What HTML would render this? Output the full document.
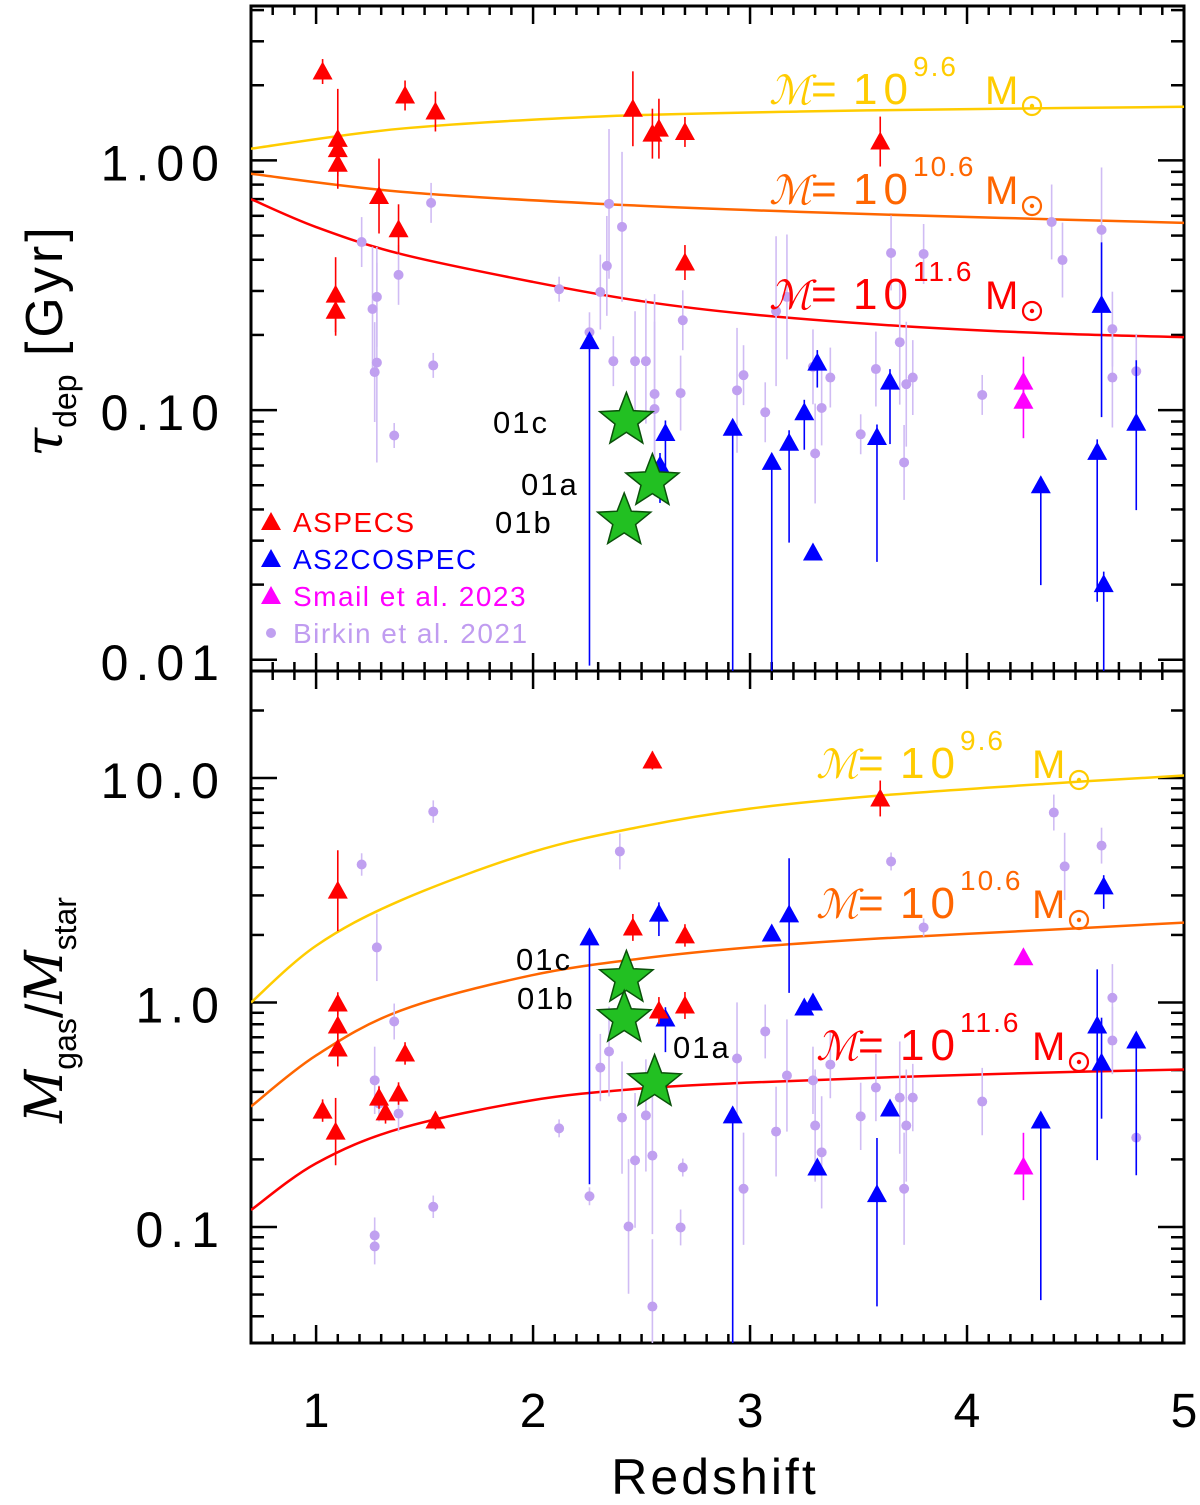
<!DOCTYPE html>
<html><head><meta charset="utf-8"><style>
html,body{margin:0;padding:0;background:#fff;}
svg{display:block;font-family:"Liberation Sans","DejaVu Sans",sans-serif;}
</style></head><body>
<svg id="chart" width="1200" height="1505" viewBox="0 0 1200 1505" xmlns="http://www.w3.org/2000/svg">
<defs>
<clipPath id="clipT"><rect x="251" y="6" width="933" height="665"/></clipPath>
<clipPath id="clipB"><rect x="251" y="671" width="933" height="672"/></clipPath>
</defs>
<g id="axes"></g>
<g id="marksT" clip-path="url(#clipT)"></g>
<g id="marksB" clip-path="url(#clipB)"></g>
<g id="labels"></g>
</svg>
<script>
// ---------- TOP PANEL DATA (tau_dep, Gyr) ----------
const topAspecsZ = [1.03,1.10,1.10,1.10,1.29,1.38,1.41,1.55,1.09,1.09,2.46,2.55,2.58,2.70,2.70,3.60];
const topAspecsV = [2.27,1.22,1.11,0.97,0.72,0.53,1.82,1.57,0.29,0.25,1.61,1.28,1.34,1.30,0.39,1.19];
const topAspecsLo = [0.05,0.2,0.05,0.05,0.15,0.1,0.06,0.08,0.15,0.1,0.15,0.1,0.12,0.06,0.07,0.1];
const topAspecsHi = [0.05,0.2,0.05,0.05,0.15,0.1,0.06,0.08,0.15,0.1,0.15,0.1,0.12,0.06,0.07,0.1];
const topBlueZ = [2.26,2.585,2.61,2.92,3.10,3.18,3.25,3.31,3.29,3.585,3.645,4.34,4.60,4.62,4.63,4.78];
const topBlueV = [0.189,0.060,0.081,0.085,0.062,0.074,0.098,0.155,0.0269,0.078,0.130,0.050,0.068,0.264,0.0201,0.089];
const topBlueLo = [1.3,0.15,0.2,1.0,1.0,0.4,0.15,0.1,0.03,0.5,0.25,0.4,0.6,0.45,0.5,0.35];
const topBlueHi = [0.03,0.05,0.05,0.03,0.03,0.05,0.05,0.05,0.03,0.05,0.05,0.03,0.05,0.25,0.05,0.25];
const topMagZ = [4.26,4.26];
const topMagV = [0.130,0.109];
const topMagLo = [0.1,0.15];
const topMagHi = [0.1,0.05];
const topBirkZ = [1.21,1.26,1.28,1.27,1.28,1.36,1.38,1.53,1.54,2.12,2.26,2.31,2.34,2.35,2.41,2.37,2.47,2.52,2.56,2.56,2.68,2.69,2.94,2.97,3.07,3.12,3.17,3.29,3.30,3.33,3.37,3.51,3.58,3.65,3.69,3.71,3.72,3.75,3.80,4.07,4.39,4.44,4.62,4.67,4.67,4.78];
const topBirkV = [0.471,0.254,0.284,0.142,0.155,0.0791,0.348,0.676,0.151,0.305,0.205,0.297,0.378,0.670,0.542,0.157,0.157,0.157,0.116,0.101,0.117,0.229,0.120,0.138,0.098,0.249,0.284,0.149,0.067,0.102,0.135,0.080,0.146,0.426,0.187,0.0617,0.127,0.135,0.422,0.115,0.567,0.399,0.527,0.211,0.135,0.143];
const topBirkE = [0.1,0.25,0.2,0.2,0.4,0.05,0.12,0.08,0.05,0.05,0.08,0.15,0.2,0.3,0.3,0.1,0.2,0.25,0.4,0.35,0.15,0.12,0.25,0.12,0.12,0.3,0.25,0.15,0.2,0.15,0.12,0.08,0.15,0.15,0.25,0.15,0.25,0.15,0.12,0.08,0.15,0.15,0.25,0.15,0.2,0.15];
const topStarZ = [2.43,2.55,2.42];
const topStarV = [0.091,0.0517,0.036];
const topStarLbl = ["01c","01a","01b"];
const curveYellowTZ = [0.7,1.39,2.31,3.23,4.15,5.0];
const curveYellowTV = [1.114,1.34,1.50,1.57,1.61,1.64];
const curveOrangeTZ = [0.7,1.39,2.31,3.23,4.15,5.0];
const curveOrangeTV = [0.884,0.749,0.670,0.622,0.589,0.562];
const curveRedTZ = [0.7,1.0,1.39,2.0,2.5,3.0,3.7,4.38,5.0];
const curveRedTV = [0.70,0.541,0.422,0.326,0.273,0.242,0.217,0.203,0.196];
// ---------- BOTTOM PANEL DATA (Mgas/Mstar) ----------
const botAspecsZ = [1.03,1.10,1.10,1.10,1.10,1.09,1.29,1.32,1.38,1.41,1.55,2.46,2.55,2.58,2.70,2.70,3.60];
const botAspecsV = [0.330,3.15,0.99,0.79,0.624,0.266,0.377,0.324,0.393,0.593,0.298,2.16,11.97,0.921,1.99,0.97,8.11];
const botAspecsLo = [0.05,0.18,0.05,0.1,0.08,0.15,0.05,0.05,0.05,0.05,0.04,0.06,0.04,0.06,0.05,0.06,0.08];
const botAspecsHi = [0.05,0.18,0.05,0.1,0.08,0.15,0.05,0.05,0.05,0.05,0.04,0.06,0.04,0.06,0.05,0.06,0.08];
const botBlueZ = [2.26,2.58,2.61,2.92,3.10,3.18,3.25,3.29,3.31,3.585,3.645,4.34,4.60,4.62,4.63,4.78];
const botBlueV = [1.95,2.49,0.849,0.314,2.03,2.47,0.950,1.0,0.184,0.140,0.337,0.298,0.790,0.540,3.29,0.677];
const botBlueLo = [1.1,0.1,0.15,1.2,0.03,0.35,0.03,0.03,0.03,0.5,0.03,0.8,0.6,0.25,0.1,0.6];
const botBlueHi = [0.03,0.05,0.05,0.03,0.03,0.25,0.03,0.03,0.03,0.25,0.03,0.03,0.25,0.2,0.05,0.03];
const botMagZ = [4.26,4.26];
const botMagV = [1.59,0.186];
const botMagLo = [0.03,0.15];
const botMagHi = [0.03,0.15];
const botBirkZ = [1.21,1.27,1.27,1.27,1.28,1.29,1.36,1.38,1.54,1.54,2.12,2.26,2.31,2.35,2.40,2.41,2.44,2.47,2.52,2.55,2.55,2.68,2.69,2.94,2.97,3.07,3.12,3.17,3.29,3.30,3.33,3.37,3.51,3.58,3.65,3.69,3.71,3.72,3.75,3.80,4.07,4.40,4.45,4.62,4.67,4.67,4.78];
const botBirkV = [4.12,0.0917,0.0819,0.450,1.76,0.355,0.823,0.320,7.09,0.123,0.275,0.137,0.513,0.605,4.71,0.307,0.1005,0.198,0.314,0.208,0.0442,0.0995,0.184,0.563,0.148,0.743,0.266,0.473,0.450,0.283,0.215,0.529,0.311,0.418,4.25,0.377,0.148,0.283,0.377,2.16,0.362,7.02,4.04,5.00,1.05,0.677,0.250];
const botBirkE = [0.05,0.08,0.08,0.15,0.15,0.08,0.08,0.08,0.05,0.05,0.04,0.04,0.15,0.2,0.08,0.25,0.3,0.3,0.25,0.35,0.3,0.08,0.04,0.25,0.25,0.12,0.2,0.25,0.15,0.25,0.25,0.15,0.15,0.15,0.04,0.25,0.25,0.25,0.15,0.04,0.15,0.08,0.15,0.08,0.15,0.15,0.15];
const botStarZ = [2.43,2.42,2.56];
const botStarV = [1.28,0.849,0.440];
const botStarLbl = ["01c","01b","01a"];
const curveYellowBZ = [0.7,1.0,1.39,1.99,2.50,3.0,3.60,4.38,5.0];
const curveYellowBV = [1.0,1.79,2.85,4.66,6.08,7.31,8.36,9.45,10.26];
const curveOrangeBZ = [0.7,1.0,1.39,1.99,2.50,3.0,3.60,4.38,5.0];
const curveOrangeBV = [0.344,0.581,0.921,1.32,1.57,1.76,1.93,2.11,2.27];
const curveRedBZ = [0.7,1.0,1.39,1.99,2.50,3.0,3.60,4.38,5.0];
const curveRedBV = [0.119,0.192,0.275,0.366,0.414,0.440,0.463,0.488,0.503];
const xTicks = [1,2,3,4,5];
const topTickVals = [1,0.1,0.01];
const topTickLbl = ["1.00","0.10","0.01"];
const botTickVals = [10,1,0.1];
const botTickLbl = ["10.0","1.0","0.1"];

// ---------- SCALES ----------
const X0=251, X1=1184, T0=6, T1=671, B0=671, B1=1343;
const ZMIN=0.7, ZMAX=5.0;
function xs(z){return X0+(z-ZMIN)*(X1-X0)/(ZMAX-ZMIN);}
const TLMAX=0.6185, TLMIN=-2.045;
function yT(v){return T0+(TLMAX-Math.log10(v))*(T1-T0)/(TLMAX-TLMIN);}
const BLMAX=1.477, BLMIN=-1.517;
function yB(v){return B0+(BLMAX-Math.log10(v))*(B1-B0)/(BLMAX-BLMIN);}

const NS="http://www.w3.org/2000/svg";
function mk(tag,attrs,parent){const e=document.createElementNS(NS,tag);for(const k in attrs)e.setAttribute(k,attrs[k]);parent.appendChild(e);return e;}
const axes=document.getElementById('axes');
const labels=document.getElementById('labels');
const mT=document.getElementById('marksT');
const mB=document.getElementById('marksB');

[[T0,T1,'top-panel-frame'],[B0,B1,'bottom-panel-frame']].forEach(p=>{
  const r=mk('rect',{x:X0,y:p[0],width:X1-X0,height:p[1]-p[0],fill:'none',stroke:'#000','stroke-width':3},axes);
  
  
});
[[T0,T1],[B0,B1]].forEach(p=>{
  for(let i=7;i<=50;i++){
    const z=i/10; const x=xs(z); const major=(i%10===0); const L=major?18:9;
    [[p[0],1],[p[1],-1]].forEach(s=>{
      const t=mk('line',{x1:x,x2:x,y1:s[0],y2:s[0]+s[1]*L,stroke:'#000','stroke-width':2.5},axes);
      
      
    });
  }
});
function yTicks(fy,lmin,lmax){
  for(let d=Math.floor(lmin);d<=Math.ceil(lmax);d++){
    for(let m=1;m<=9;m++){
      const v=m*Math.pow(10,d); const lv=Math.log10(v);
      if(lv<lmin||lv>lmax) continue;
      const y=fy(v); const L=(m===1)?26:13;
      [[X0,1],[X1,-1]].forEach(s=>{
        const t=mk('line',{x1:s[0],x2:s[0]+s[1]*L,y1:y,y2:y,stroke:'#000','stroke-width':2.5},axes);
        
        
      });
    }
  }
}
yTicks(yT,TLMIN,TLMAX); yTicks(yB,BLMIN,BLMAX);
xTicks.forEach(z=>{
  const t=mk('text',{x:xs(z),y:1427,'font-size':48,'text-anchor':'middle',fill:'#000'},labels);
  t.textContent=String(z);
  
  
});
topTickVals.forEach((v,i)=>{
  const t=mk('text',{x:226,y:yT(v)+20,'font-size':50,'text-anchor':'end',fill:'#000','letter-spacing':'7'},labels);
  t.textContent=topTickLbl[i];
  
  
});
botTickVals.forEach((v,i)=>{
  const t=mk('text',{x:226,y:yB(v)+20,'font-size':50,'text-anchor':'end',fill:'#000','letter-spacing':'7'},labels);
  t.textContent=botTickLbl[i];
  
  
});

function curve(zs,vs,fy,col,parent,name){
  const pts=zs.map((z,i)=>[xs(z),fy(vs[i])]);
  let d='M'+pts[0][0]+','+pts[0][1];
  for(let i=0;i<pts.length-1;i++){
    const p0=pts[Math.max(0,i-1)],p1=pts[i],p2=pts[i+1],p3=pts[Math.min(pts.length-1,i+2)];
    const c1x=p1[0]+(p2[0]-p0[0])/6,c1y=p1[1]+(p2[1]-p0[1])/6;
    const c2x=p2[0]-(p3[0]-p1[0])/6,c2y=p2[1]-(p3[1]-p1[1])/6;
    d+=' C'+c1x+','+c1y+' '+c2x+','+c2y+' '+p2[0]+','+p2[1];
  }
  const e=mk('path',{d:d,fill:'none',stroke:col,'stroke-width':2.5},parent);
  
  
}
const YEL='#ffcc00',ORA='#ff6600',RED='#ff0000',BLU='#0000ff',MAG='#ff00ff',LAV='#c0a0f0',LAVE='#d0bcf4';
curve(curveYellowTZ,curveYellowTV,yT,YEL,mT,'yellow-model-curve-top');
curve(curveOrangeTZ,curveOrangeTV,yT,ORA,mT,'orange-model-curve-top');
curve(curveRedTZ,curveRedTV,yT,RED,mT,'red-model-curve-top');
curve(curveYellowBZ,curveYellowBV,yB,YEL,mB,'yellow-model-curve-bottom');
curve(curveOrangeBZ,curveOrangeBV,yB,ORA,mB,'orange-model-curve-bottom');
curve(curveRedBZ,curveRedBV,yB,RED,mB,'red-model-curve-bottom');

function errbar(x,v,lo,hi,fy,col,parent){
  const l=mk('line',{x1:x,x2:x,y1:fy(v*Math.pow(10,hi)),y2:fy(v/Math.pow(10,lo)),stroke:col,'stroke-width':1.6},parent);
  
  
}
function tri(x,y,col,parent,name){
  const s=10;
  const p=mk('polygon',{points:(x-s)+','+(y+8)+' '+(x+s)+','+(y+8)+' '+x+','+(y-10),fill:col},parent);
  
  
}
function dot(x,y,parent,name){
  const c=mk('circle',{cx:x,cy:y,r:5,fill:LAV},parent);
  
  
}
function star(x,y,parent,name){
  const R=28,r=12; let pts=[];
  for(let k=0;k<10;k++){const a=-Math.PI/2+k*Math.PI/5;const rr=k%2?r:R;pts.push((x+rr*Math.cos(a)).toFixed(1)+','+(y+rr*Math.sin(a)).toFixed(1));}
  const p=mk('polygon',{points:pts.join(' '),fill:'#22c022',stroke:'#0a500a','stroke-width':1.5},parent);
  
  
}
function panel(fy,parent,S,pre){
  S.bz.forEach((z,i)=>errbar(xs(z),S.bv[i],S.be[i],S.be[i],fy,LAVE,parent));
  S.bz.forEach((z,i)=>dot(xs(z),fy(S.bv[i]),parent,pre+'birkin-point'));
  S.uz.forEach((z,i)=>errbar(xs(z),S.uv[i],S.ulo[i],S.uhi[i],fy,BLU,parent));
  S.uz.forEach((z,i)=>tri(xs(z),fy(S.uv[i]),BLU,parent,pre+'as2cospec-point'));
  S.mz.forEach((z,i)=>errbar(xs(z),S.mv[i],S.mlo[i],S.mhi[i],fy,MAG,parent));
  S.mz.forEach((z,i)=>tri(xs(z),fy(S.mv[i]),MAG,parent,pre+'smail-point'));
  S.az.forEach((z,i)=>errbar(xs(z),S.av[i],S.alo[i],S.ahi[i],fy,RED,parent));
  S.az.forEach((z,i)=>tri(xs(z),fy(S.av[i]),RED,parent,pre+'aspecs-point'));
  S.sz.forEach((z,i)=>star(xs(z),fy(S.sv[i]),parent,pre+'star-'+S.sl[i]));
}
panel(yT,mT,{bz:topBirkZ,bv:topBirkV,be:topBirkE,az:topAspecsZ,av:topAspecsV,alo:topAspecsLo,ahi:topAspecsHi,uz:topBlueZ,uv:topBlueV,ulo:topBlueLo,uhi:topBlueHi,mz:topMagZ,mv:topMagV,mlo:topMagLo,mhi:topMagHi,sz:topStarZ,sv:topStarV,sl:topStarLbl},'top-');
panel(yB,mB,{bz:botBirkZ,bv:botBirkV,be:botBirkE,az:botAspecsZ,av:botAspecsV,alo:botAspecsLo,ahi:botAspecsHi,uz:botBlueZ,uv:botBlueV,ulo:botBlueLo,uhi:botBlueHi,mz:botMagZ,mv:botMagV,mlo:botMagLo,mhi:botMagHi,sz:botStarZ,sv:botStarV,sl:botStarLbl},'bottom-');

const starLabelPos=[[493,433],[521,495],[495,533],[516,970],[517,1009],[673,1058]];
const starLabelTxt=["01c","01a","01b","01c","01b","01a"];
starLabelPos.forEach((p,i)=>{
  const t=mk('text',{x:p[0],y:p[1],'font-size':31,fill:'#000','letter-spacing':'2'},labels);
  t.textContent=starLabelTxt[i];
  
  
});

function massLabel(x,y,exp,col,name){
  const g=mk('g',{fill:col},labels);
  
  
  const t1=mk('text',{x:x,y:y,'font-size':40,'font-style':'italic','font-family':'"DejaVu Serif",serif'},g);
  t1.textContent='ℳ';
  const t2=mk('text',{x:x+42,y:y,'font-size':44},g);
  t2.textContent='=';
  const t2b=mk('text',{x:x+84,y:y,'font-size':44,'letter-spacing':'6'},g);
  t2b.textContent='10';
  const t3=mk('text',{x:x+144,y:y-28,'font-size':28,'letter-spacing':'2'},g);
  t3.textContent=exp;
  const t4=mk('text',{x:x+216,y:y,'font-size':40},g);
  t4.textContent='M';
  mk('circle',{cx:x+263,cy:y+2,r:9,fill:'none',stroke:col,'stroke-width':2.2},g);
  mk('circle',{cx:x+263,cy:y+2,r:2.2,fill:col},g);
}
massLabel(769,104,'9.6',YEL,'label-mass-9.6-top');
massLabel(769,204,'10.6',ORA,'label-mass-10.6-top');
massLabel(769,309,'11.6',RED,'label-mass-11.6-top');
massLabel(816,778,'9.6',YEL,'label-mass-9.6-bottom');
massLabel(816,918,'10.6',ORA,'label-mass-10.6-bottom');
massLabel(816,1060,'11.6',RED,'label-mass-11.6-bottom');

const legTxt=["ASPECS","AS2COSPEC","Smail et al. 2023","Birkin et al. 2021"];
const legCol=[RED,BLU,MAG,'#c09cf0'];
const legY=[522,559,596,633];
legTxt.forEach((s,i)=>{
  if(i<3) tri(271,legY[i],legCol[i],labels,'legend-marker-'+i);
  else dot(271,legY[i],labels,'legend-marker-birkin');
  const t=mk('text',{x:293,y:legY[i]+10,'font-size':28,fill:legCol[i],'letter-spacing':'1.5'},labels);
  t.textContent=s;
  
  
});

const xt=mk('text',{x:715,y:1494,'font-size':50,'text-anchor':'middle',fill:'#000','letter-spacing':'3'},labels);
xt.textContent='Redshift';



const ty=mk('text',{transform:'translate(62,340) rotate(-90)','font-size':52,'text-anchor':'middle',fill:'#000'},labels);
ty.innerHTML='<tspan font-family="DejaVu Serif,serif" font-style="italic">τ</tspan><tspan font-size="32" dy="14">dep</tspan><tspan dy="-14" letter-spacing="4"> [Gyr]</tspan>';



const by=mk('text',{transform:'translate(62,1010) rotate(-90)','font-size':52,'text-anchor':'middle',fill:'#000'},labels);
by.innerHTML='<tspan font-family="DejaVu Serif,serif" font-style="italic">M</tspan><tspan font-size="32" dy="14">gas</tspan><tspan dy="-14">/</tspan><tspan font-family="DejaVu Serif,serif" font-style="italic">M</tspan><tspan font-size="32" dy="14">star</tspan>';


</script>
</body></html>
